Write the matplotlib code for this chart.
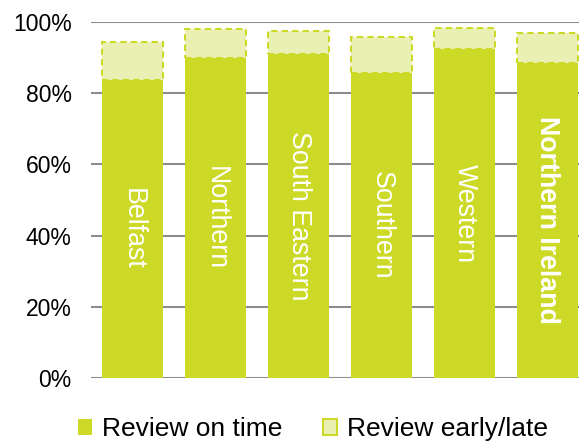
import numpy as np
import matplotlib
matplotlib.use("Agg")
import matplotlib.pyplot as plt
from matplotlib.patches import Patch

# values (percent of reviews)
regions = ["Belfast", "Northern", "South Eastern", "Southern", "Western", "Northern Ireland"]
on_time = [83.7, 89.9, 91.0, 85.6, 92.3, 88.6]
early_late = [10.7, 8.2, 6.5, 10.3, 5.9, 8.4]
y_ticks = [0, 20, 40, 60, 80, 100]

green = "#CDD927"
light = "#EAF0B4"
grid_col = "#8C8C8C"

plt.rcParams['font.family'] = ['Liberation Sans', 'DejaVu Sans']

fig = plt.figure(figsize=(5.79, 4.42), dpi=100)
ax = fig.add_axes([91/579, 1-378/442, 498/579, 356/442])

x = np.arange(len(regions))
ax.bar(x, on_time, width=0.735, color=green, edgecolor="none", zorder=3)
ax.bar(x, early_late, bottom=on_time, width=0.735, color=light,
       edgecolor=green, linestyle=(0, (3, 2)), linewidth=1.5, zorder=3)

# region names inside the on-time part of each bar
for i, name in enumerate(regions):
    weight = "bold" if name == "Northern Ireland" else "normal"
    ax.text(x[i], on_time[i] / 2, name, rotation=270, color="white",
            fontsize=19.3, fontweight=weight, ha="center", va="center", zorder=4)

ax.set_xlim(-0.5, len(regions) - 0.5)
ax.set_ylim(0, 100)
ax.set_yticks(y_ticks)
ax.set_yticklabels([f"{t}%" for t in y_ticks], fontsize=16.5)
ax.set_xticks([])
ax.tick_params(axis="y", length=0, pad=14)
ax.yaxis.grid(True, color=grid_col, linewidth=1.5, zorder=0)
ax.set_axisbelow(True)
for s in ax.spines.values():
    s.set_visible(False)

handles = [Patch(facecolor=green, edgecolor="none", label="Review on time"),
           Patch(facecolor=light, edgecolor=green, linewidth=1.5, label="Review early/late")]
fig.legend(handles=handles, loc="lower left", bbox_to_anchor=(62/579, -0.034),
           ncol=2, frameon=False, fontsize=19, handlelength=0.55, handleheight=0.55,
           handletextpad=0.35, columnspacing=1.55, borderpad=0.1)

fig.savefig("out.png", dpi=100)
